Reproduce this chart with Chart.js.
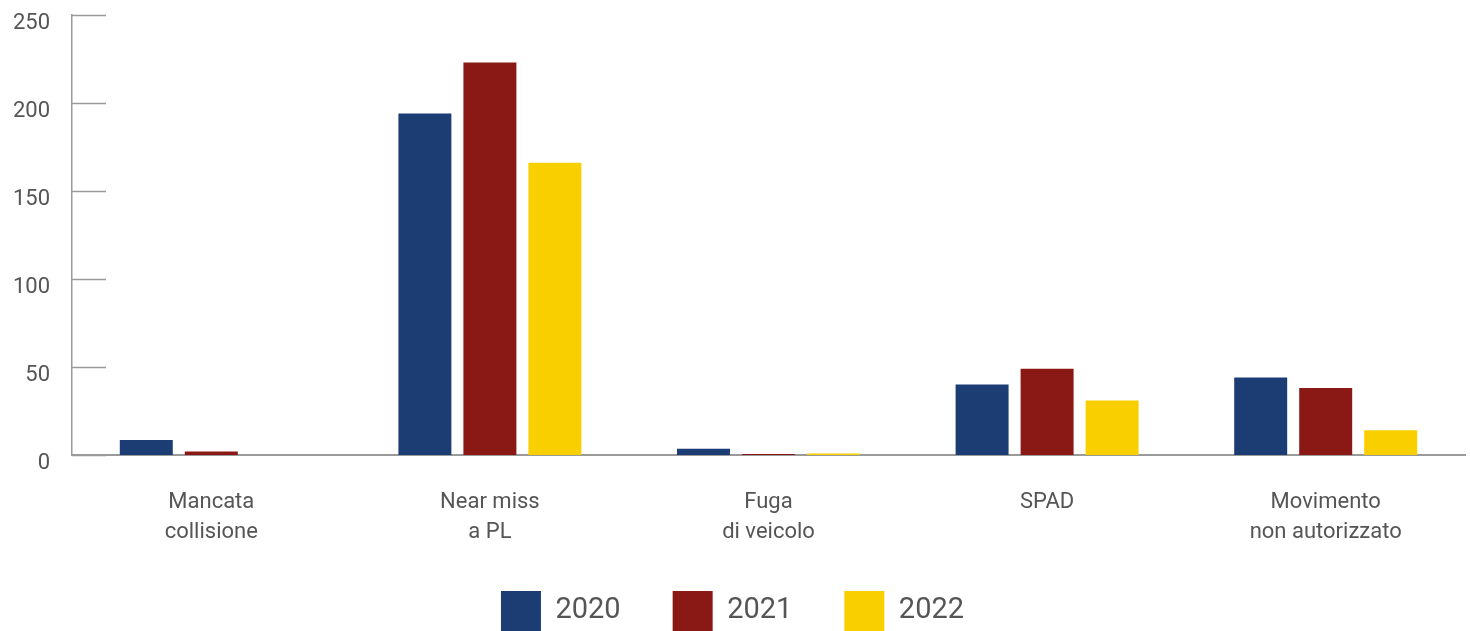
<!DOCTYPE html>
<html>
<head>
<meta charset="utf-8">
<script src="https://cdn.jsdelivr.net/npm/chart.js"></script>
<style>
  html, body { margin: 0; padding: 0; background: #ffffff; }
  #wrap { width: 1470px; height: 631px; position: relative; }
</style>
</head>
<body>
<div id="wrap"><canvas id="chart"></canvas></div>
<script>
const categories = [
  ['Mancata', 'collisione'],
  ['Near miss', 'a PL'],
  ['Fuga', 'di veicolo'],
  ['SPAD'],
  ['Movimento', 'non autorizzato']
];
const years = ['2020', '2021', '2022'];
const values2020 = [8.5, 194, 3.5, 40, 44];
const values2021 = [2, 223, 0.5, 49, 38];
const values2022 = [0, 166, 0.8, 31, 14];
const yTicks = [0, 50, 100, 150, 200, 250];

const colors = ['#1b3d74', '#8a1814', '#f9cf00'];
const textColor = '#555555';
const axisColor = '#9a9a9a';
const legendPad = 52;

// short tick marks drawn inside the plot, from the y axis to the right
const innerTicks = {
  id: 'innerTicks',
  afterDatasetsDraw(chart) {
    const { ctx, chartArea, scales } = chart;
    ctx.save();
    ctx.strokeStyle = axisColor;
    ctx.lineWidth = 1.5;
    yTicks.forEach(v => {
      const y = Math.round(scales.y.getPixelForValue(v)) + 0.5;
      ctx.beginPath();
      ctx.moveTo(chartArea.left, y);
      ctx.lineTo(chartArea.left + 34, y);
      ctx.stroke();
    });
    ctx.restore();
  }
};

new Chart(document.getElementById('chart'), {
  type: 'bar',
  data: {
    labels: categories,
    datasets: [
      { label: years[0], data: values2020, backgroundColor: colors[0] },
      { label: years[1], data: values2021, backgroundColor: colors[1] },
      { label: years[2], data: values2022, backgroundColor: colors[2] }
    ]
  },
  options: {
    responsive: true,
    maintainAspectRatio: false,
    animation: false,
    layout: { padding: { top: 15, right: 5, left: 0, bottom: 0 } },
    datasets: {
      bar: { categoryPercentage: 0.7, barPercentage: 0.815 }
    },
    plugins: {
      legend: {
        position: 'bottom',
        maxHeight: legendPad + 40,
        labels: {
          boxWidth: 40,
          boxHeight: 40,
          padding: legendPad,
          color: textColor,
          font: { family: 'Roboto', size: 29 }
        }
      },
      tooltip: { enabled: false }
    },
    scales: {
      x: {
        grid: { display: false, drawTicks: false },
        border: { display: true, color: axisColor, width: 2 },
        ticks: {
          color: textColor,
          padding: 32,
          maxRotation: 0,
          font: { family: 'Roboto', size: 22, lineHeight: 1.364 }
        },
        afterFit(scale) { scale.height = 631 - 455 - (legendPad + 40); }
      },
      y: {
        min: 0,
        max: 250,
        afterBuildTicks(scale) { scale.ticks = yTicks.map(v => ({ value: v })); },
        grid: { display: false, drawTicks: false },
        border: { display: true, color: axisColor, width: 1.5 },
        ticks: {
          color: textColor,
          padding: 22,
          labelOffset: 8,
          font: { family: 'Roboto', size: 22 }
        },
        afterFit(scale) {
          scale.width = 72;
          scale.paddingTop = 0;
          scale.paddingBottom = 0;
        }
      }
    }
  },
  plugins: [innerTicks]
});
</script>
</body>
</html>
